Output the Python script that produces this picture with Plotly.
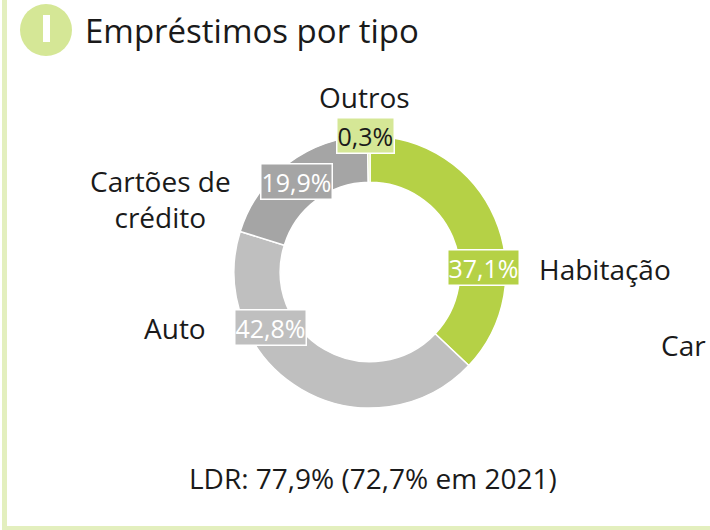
import plotly.graph_objects as go

categories = ["Habitação", "Auto", "Cartões de crédito", "Outros"]
values = [37.1, 42.8, 19.9, 0.3]
value_labels = ["37,1%", "42,8%", "19,9%", "0,3%"]
colors = ["#b5d146", "#bfbfbf", "#a5a5a5", "#d5e796"]
label_text_colors = ["white", "white", "white", "#1a1a1a"]
title_text = "Empréstimos por tipo"
footer_text = "LDR: 77,9% (72,7% em 2021)"

W, H = 710, 530
FONT = "Open Sans"

def px(x):
    return x / W

def py(y):
    return 1 - y / H

cx, cy, R = 370, 272, 136

fig = go.Figure(go.Pie(
    labels=categories,
    values=values,
    sort=False,
    direction="clockwise",
    rotation=0,
    hole=0.66,
    marker=dict(colors=colors, line=dict(color="white", width=1.5)),
    textinfo="none",
    hoverinfo="label+percent",
    showlegend=False,
    domain=dict(x=[px(cx - R), px(cx + R)], y=[py(cy + R), py(cy - R)]),
))

val_pos = [(483, 267), (270, 327), (296, 182), (365, 135)]
cat_pos = [(605, 269), (175, 328), (160, 199), (364, 97)]
cat_text = ["Habitação", "Auto", "Cartões de<br>crédito", "Outros"]

ann = []
for (x, y), t, bg, fc in zip(val_pos, value_labels, colors, label_text_colors):
    ann.append(dict(x=px(x), y=py(y), xref="paper", yref="paper", text=t,
                    showarrow=False, xanchor="center", yanchor="middle",
                    font=dict(family=FONT, size=25, color=fc),
                    bgcolor=bg, bordercolor="white", borderwidth=1.5, borderpad=0))
for (x, y), t in zip(cat_pos, cat_text):
    ann.append(dict(x=px(x), y=py(y), xref="paper", yref="paper", text=t,
                    showarrow=False, xanchor="center", yanchor="middle",
                    font=dict(family=FONT, size=28, color="#1a1a1a")))

# label of neighbouring chart, partly visible at the right edge in the reference
ann.append(dict(x=px(708), y=py(345), xref="paper", yref="paper", text="Car",
                showarrow=False, xanchor="right", yanchor="middle",
                font=dict(family=FONT, size=28, color="#1a1a1a")))
ann.append(dict(x=px(83), y=py(31), xref="paper", yref="paper", text=title_text,
                showarrow=False, xanchor="left", yanchor="middle",
                font=dict(family=FONT, size=33, color="#1a1a1a")))
ann.append(dict(x=px(373), y=py(478), xref="paper", yref="paper", text=footer_text,
                showarrow=False, xanchor="center", yanchor="middle",
                font=dict(family=FONT, size=28, color="#1a1a1a")))

shapes = [
    dict(type="rect", xref="paper", yref="paper", x0=px(2), x1=px(7), y0=0, y1=1,
         fillcolor="#e3efbe", line=dict(width=0)),
    dict(type="rect", xref="paper", yref="paper", x0=px(2), x1=1, y0=0, y1=py(526),
         fillcolor="#e3efbe", line=dict(width=0)),
    dict(type="circle", xref="paper", yref="paper", x0=px(20), x1=px(72), y0=py(56), y1=py(4),
         fillcolor="#d5e796", line=dict(width=0)),
    dict(type="rect", xref="paper", yref="paper", x0=px(43), x1=px(50), y0=py(42), y1=py(15),
         fillcolor="white", line=dict(width=0)),
]

fig.update_layout(
    width=W, height=H,
    margin=dict(l=0, r=0, t=0, b=0),
    paper_bgcolor="white", plot_bgcolor="white",
    annotations=ann, shapes=shapes,
    font=dict(family=FONT),
)

fig.write_html("out.html",
               config={"displayModeBar": False},
               post_script="document.body.style.margin='0';document.body.style.overflow='hidden';")
